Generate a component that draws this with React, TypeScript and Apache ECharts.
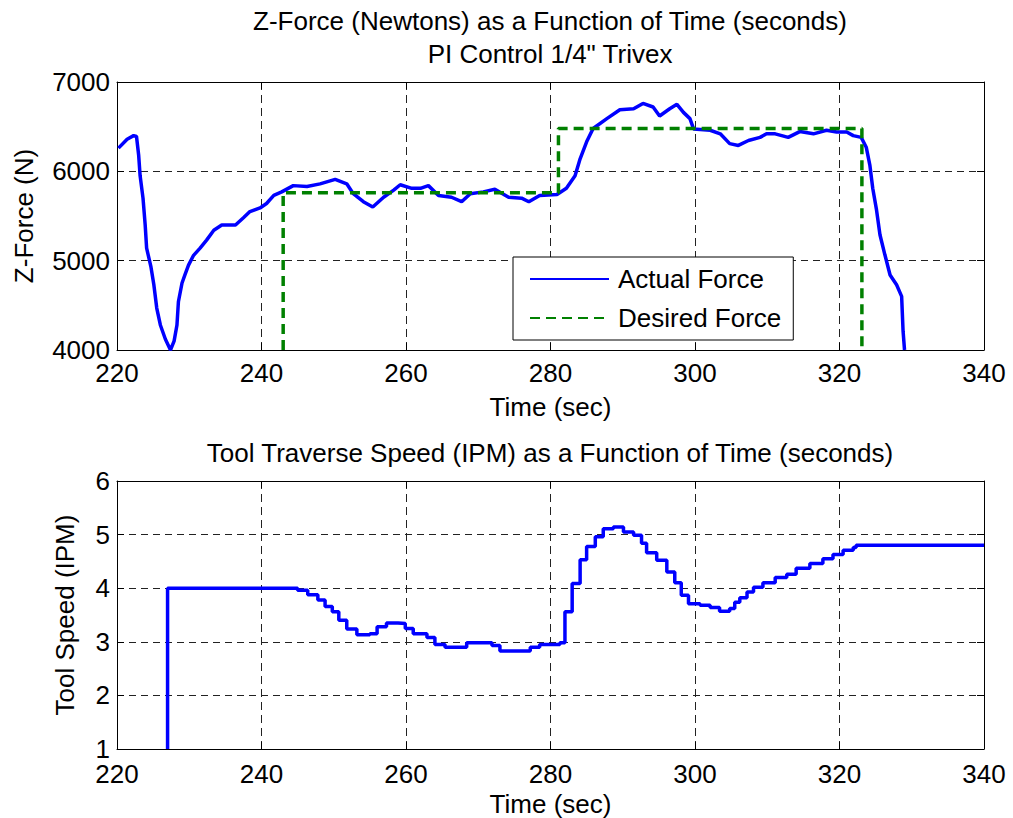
import React, { useEffect, useRef } from "react";
import * as echarts from "echarts";

// ---------- DATA ----------
const timeTicks = [220, 240, 260, 280, 300, 320, 340];
const forceTicks = [4000, 5000, 6000, 7000];
const speedTicks = [1, 2, 3, 4, 5, 6];

const actualTime = [
  220.2, 221.4, 222.3, 222.7, 223.0, 223.2, 223.6, 223.9, 224.1, 224.7, 225.1, 225.5, 226.0, 226.7,
  227.4, 227.9, 228.3, 228.5, 229.0, 229.4, 229.9, 230.6, 231.5, 232.4, 233.4, 234.5, 236.4, 237.5,
  238.4, 239.8, 240.7, 241.7, 242.8, 244.4, 246.3, 248.1, 250.2, 251.8, 252.7, 254.1, 255.4, 256.9,
  258.3, 259.2, 260.8, 262.0, 263.1, 264.5, 266.3, 267.7, 268.9, 270.7, 272.3, 274.2, 276.0, 277.0,
  278.5, 280.9, 282.2, 283.4, 284.1, 285.0, 285.9, 287.8, 289.6, 291.5, 292.8, 294.2, 295.1, 296.5,
  297.5, 298.4, 299.3, 299.8, 302.1, 303.5, 304.8, 306.0, 307.4, 309.0, 309.9, 311.1, 312.9, 314.5,
  316.4, 318.2, 319.6, 321.0, 321.9, 323.0, 323.7, 324.2, 324.6, 325.1, 325.6, 326.3, 327.0, 327.9,
  328.6, 328.8, 329.0,
];
const actualForce = [
  6260, 6360, 6400, 6390, 6180, 5950, 5700, 5400, 5140, 4930, 4730, 4470, 4280, 4120,
  4000, 4100, 4280, 4540, 4750, 4840, 4950, 5060, 5140, 5230, 5340, 5400, 5400, 5480,
  5550, 5590, 5640, 5730, 5770, 5840, 5830, 5860, 5910, 5860, 5750, 5660, 5600, 5710,
  5790, 5850, 5810, 5810, 5840, 5730, 5710, 5660, 5750, 5770, 5800, 5710, 5700, 5660,
  5730, 5740, 5810, 5950, 6140, 6330, 6480, 6590, 6690, 6700, 6760, 6720, 6620, 6700,
  6750, 6660, 6590, 6475, 6460, 6420, 6310, 6290, 6345, 6380, 6420, 6420, 6380, 6445,
  6420, 6460, 6440, 6440, 6400, 6380, 6270, 6070, 5810, 5580, 5290, 5060, 4840, 4730,
  4600, 4210, 4000,
];

const desiredTime = [243.0, 243.0, 281.1, 281.1, 323.1, 323.1];
const desiredForce = [4000, 5760, 5760, 6480, 6480, 4000];

const speedTime = [
  227.0, 227.0, 243.7, 245.0, 246.4, 247.8, 248.8, 249.8, 250.7, 251.8, 253.2, 255.0, 256.0, 257.3,
  258.9, 259.9, 261.0, 262.9, 264.0, 265.4, 266.8, 268.4, 269.8, 271.9, 273.0, 275.8, 277.2, 278.5,
  281.3, 282.0, 283.0, 284.1, 285.0, 286.2, 287.3, 288.7, 290.1, 291.5, 292.6, 293.3, 294.7, 296.1,
  297.2, 298.1, 299.1, 300.7, 302.1, 303.4, 304.8, 305.5, 306.2, 307.2, 308.1, 309.4, 311.1, 312.7,
  314.0, 315.9, 317.7, 319.1, 320.5, 321.9, 322.3, 340.0,
];
const speedValue = [
  1, 4, 4, 3.96, 3.88, 3.78, 3.66, 3.56, 3.4, 3.24, 3.13, 3.15, 3.28, 3.35,
  3.34, 3.25, 3.15, 3.08, 2.95, 2.9, 2.9, 2.98, 2.98, 2.93, 2.83, 2.83, 2.9, 2.95,
  2.98, 3.56, 4.09, 4.53, 4.78, 4.96, 5.11, 5.14, 5.05, 4.99, 4.84, 4.66, 4.52, 4.3,
  4.1, 3.87, 3.71, 3.68, 3.64, 3.57, 3.62, 3.74, 3.82, 3.93, 4.02, 4.1, 4.2, 4.26,
  4.37, 4.46, 4.55, 4.63, 4.71, 4.76, 4.8, 4.8,
];

const FONT = "'Liberation Sans', Arial, Helvetica, sans-serif";
const FS = 26;

const zip = (a: number[], b: number[]) => a.map((v, i) => [v, b[i]]);

function xAxisPair(gridIndex: number, nameGap: number, labelMargin: number) {
  const min = timeTicks[0];
  const max = timeTicks[timeTicks.length - 1];
  const interval = timeTicks[1] - timeTicks[0];
  return [
    {
      type: "value",
      gridIndex,
      position: "bottom",
      min,
      max,
      interval,
      name: "Time (sec)",
      nameLocation: "middle",
      nameGap,
      nameTextStyle: { fontSize: FS, fontFamily: FONT, color: "#000" },
      axisLine: { show: true, lineStyle: { color: "#000", width: 1 } },
      axisTick: { show: true, inside: true, length: 7, lineStyle: { color: "#000" } },
      axisLabel: {
        fontSize: FS,
        fontFamily: FONT,
        color: "#000",
        margin: labelMargin,
        lineHeight: 20,
        formatter: (v: number) => String(v),
      },
      splitLine: { show: true, lineStyle: { color: "#222", width: 1, type: [8, 5] } },
    },
    {
      type: "value",
      gridIndex,
      position: "top",
      min,
      max,
      interval,
      axisLine: { show: true, lineStyle: { color: "#000", width: 1 } },
      axisTick: { show: true, inside: true, length: 7, lineStyle: { color: "#000" } },
      axisLabel: { show: false },
      splitLine: { show: false },
    },
  ];
}

function yAxisPair(gridIndex: number, ticks: number[], name: string, nameGap: number) {
  const min = ticks[0];
  const max = ticks[ticks.length - 1];
  const interval = ticks[1] - ticks[0];
  return [
    {
      type: "value",
      gridIndex,
      position: "left",
      min,
      max,
      interval,
      name,
      nameLocation: "middle",
      nameGap,
      nameTextStyle: { fontSize: FS, fontFamily: FONT, color: "#000" },
      axisLine: { show: true, lineStyle: { color: "#000", width: 1 } },
      axisTick: { show: true, inside: true, length: 7, lineStyle: { color: "#000" } },
      axisLabel: {
        fontSize: FS,
        fontFamily: FONT,
        color: "#000",
        margin: 7,
        lineHeight: 18,
        padding: [0, 0, 4, 0],
        formatter: (v: number) => String(v),
      },
      splitLine: { show: true, lineStyle: { color: "#222", width: 1, type: [7, 5] } },
    },
    {
      type: "value",
      gridIndex,
      position: "right",
      min,
      max,
      interval,
      axisLine: { show: true, lineStyle: { color: "#000", width: 1 } },
      axisTick: { show: true, inside: true, length: 7, lineStyle: { color: "#000" } },
      axisLabel: { show: false },
      splitLine: { show: false },
    },
  ];
}

export default function App() {
  const ref = useRef<HTMLDivElement>(null);

  useEffect(() => {
    if (!ref.current) return;
    const chart = echarts.init(ref.current, null, { renderer: "svg" });
    const option: any = {
      animation: false,
      backgroundColor: "#fff",
      textStyle: { fontFamily: FONT },
      title: [
        {
          text: 'Z-Force (Newtons) as a Function of Time (seconds)\nPI Control 1/4" Trivex',
          left: 550,
          top: 4,
          padding: 0,
          textAlign: "center",
          textStyle: { fontSize: FS, fontWeight: "normal", fontFamily: FONT, color: "#000", lineHeight: 33 },
        },
        {
          text: "Tool Traverse Speed (IPM) as a Function of Time (seconds)",
          left: 550,
          top: 436,
          padding: 0,
          textAlign: "center",
          textStyle: { fontSize: FS, fontWeight: "normal", fontFamily: FONT, color: "#000", lineHeight: 33 },
        },
      ],
      legend: {
        data: ["Actual Force", "Desired Force"],
        orient: "vertical",
        left: 513,
        top: 257,
        itemWidth: 79,
        itemHeight: 26,
        itemGap: 13,
        padding: [9, 12, 9, 16],
        backgroundColor: "#fff",
        borderColor: "#000",
        borderWidth: 1,
        borderRadius: 0,
        selectedMode: false,
        itemStyle: { opacity: 0 },
        textStyle: { fontSize: FS, fontFamily: FONT, color: "#000", padding: [0, 0, 0, 4] },
      },
      grid: [
        { left: 117, right: 29, top: 82, height: 268, show: false },
        { left: 117, right: 29, top: 481, height: 268, show: false },
      ],
      xAxis: [...xAxisPair(0, 44, 13), ...xAxisPair(1, 42, 15)],
      yAxis: [
        ...yAxisPair(0, forceTicks, "Z-Force (N)", 80),
        ...yAxisPair(1, speedTicks, "Tool Speed (IPM)", 39),
      ],
      series: [
        {
          name: "Actual Force",
          type: "line",
          xAxisIndex: 0,
          yAxisIndex: 0,
          data: zip(actualTime, actualForce),
          showSymbol: false,
          symbol: "none",
          lineStyle: { color: "#0000ff", width: 3.5 },
          itemStyle: { color: "#0000ff" },
          z: 3,
        },
        {
          name: "Desired Force",
          type: "line",
          xAxisIndex: 0,
          yAxisIndex: 0,
          data: zip(desiredTime, desiredForce),
          showSymbol: false,
          symbol: "none",
          lineStyle: { color: "#008000", width: 3.5, type: [10, 6] },
          itemStyle: { color: "#008000" },
          z: 4,
        },
        {
          name: "Tool Speed",
          type: "line",
          xAxisIndex: 2,
          yAxisIndex: 2,
          step: "end",
          data: zip(speedTime, speedValue),
          showSymbol: false,
          symbol: "none",
          lineStyle: { color: "#0000ff", width: 3.5 },
          itemStyle: { color: "#0000ff" },
        },
      ],
    };
    chart.setOption(option);
    return () => chart.dispose();
  }, []);

  return (
    <div
      ref={ref}
      style={{ position: "absolute", left: 0, top: 0, width: 1013, height: 818, background: "#fff" }}
    />
  );
}
